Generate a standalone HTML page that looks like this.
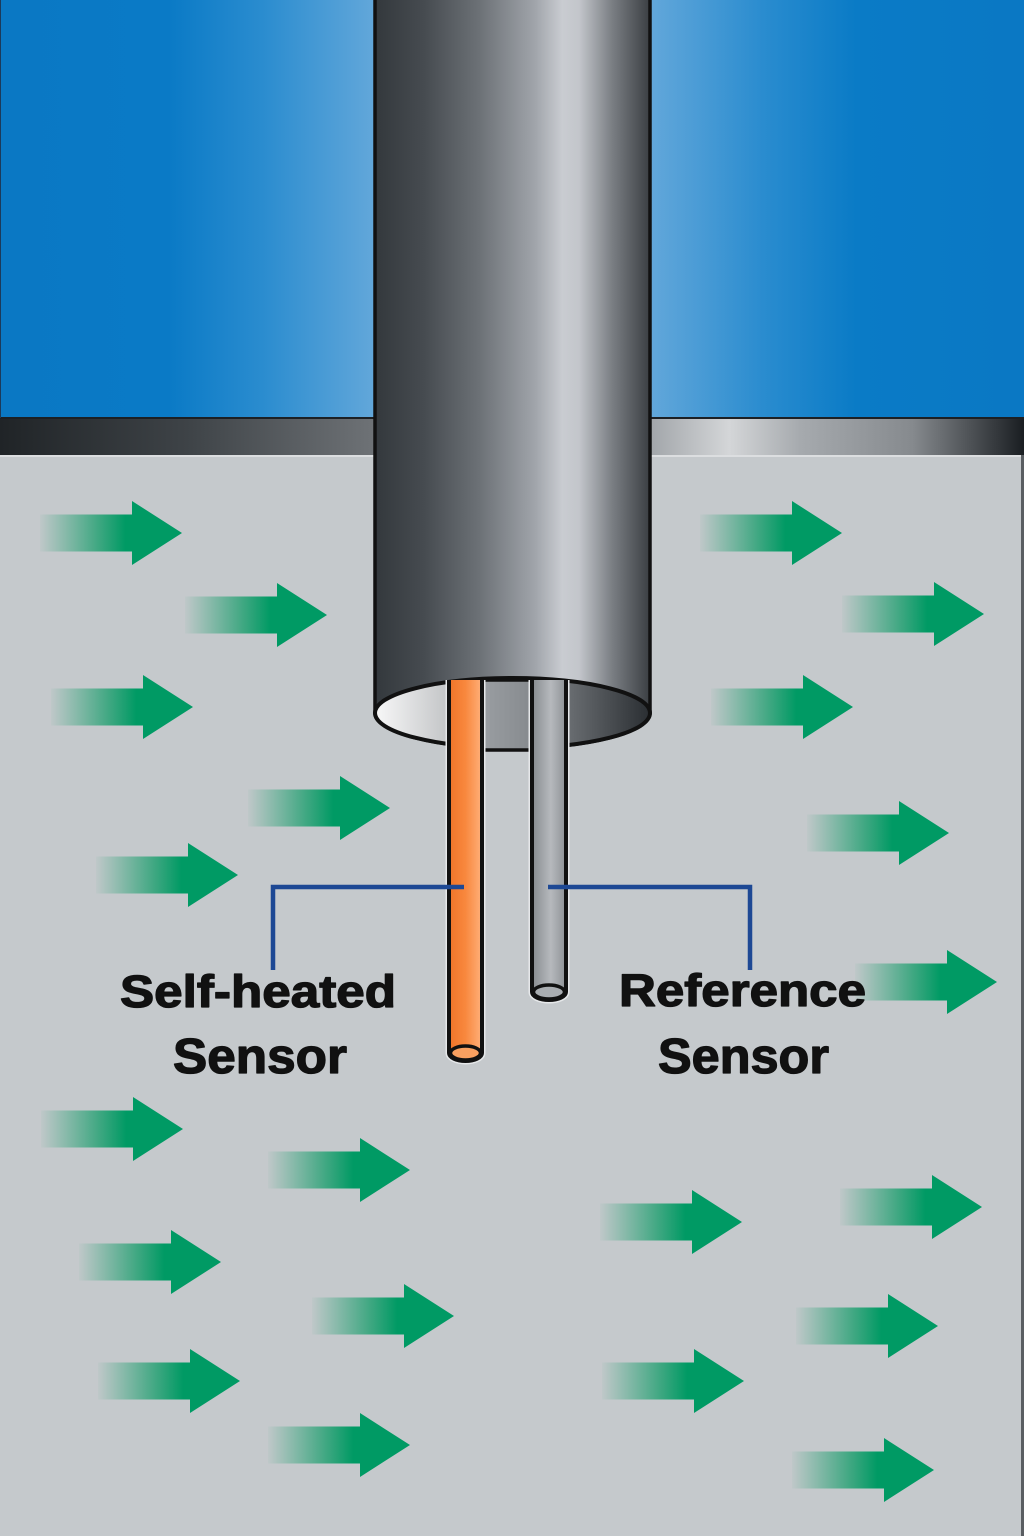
<!DOCTYPE html>
<html>
<head>
<meta charset="utf-8">
<style>
html,body{margin:0;padding:0;background:#c5c9cc;}
svg{display:block;}
</style>
</head>
<body>
<svg width="1024" height="1536" viewBox="0 0 1024 1536" xmlns="http://www.w3.org/2000/svg">
<defs>
  <linearGradient id="blueL" x1="0" y1="0" x2="374" y2="0" gradientUnits="userSpaceOnUse">
    <stop offset="0" stop-color="#0a78c4"/>
    <stop offset="0.45" stop-color="#0a7ac6"/>
    <stop offset="0.7" stop-color="#2a8ccf"/>
    <stop offset="1" stop-color="#62a7da"/>
  </linearGradient>
  <linearGradient id="blueR" x1="651" y1="0" x2="1024" y2="0" gradientUnits="userSpaceOnUse">
    <stop offset="0" stop-color="#62a7da"/>
    <stop offset="0.3" stop-color="#2a8ccf"/>
    <stop offset="0.55" stop-color="#0a7bc6"/>
    <stop offset="1" stop-color="#0a78c4"/>
  </linearGradient>
  <linearGradient id="bandL" x1="0" y1="0" x2="374" y2="0" gradientUnits="userSpaceOnUse">
    <stop offset="0" stop-color="#202427"/>
    <stop offset="0.5" stop-color="#3e4347"/>
    <stop offset="1" stop-color="#6e7276"/>
  </linearGradient>
  <linearGradient id="bandR" x1="651" y1="0" x2="1024" y2="0" gradientUnits="userSpaceOnUse">
    <stop offset="0" stop-color="#a2a6aa"/>
    <stop offset="0.21" stop-color="#d4d6d8"/>
    <stop offset="0.4" stop-color="#a6aaae"/>
    <stop offset="0.7" stop-color="#868a8e"/>
    <stop offset="0.9" stop-color="#3e4246"/>
    <stop offset="1" stop-color="#1a1e22"/>
  </linearGradient>
  <linearGradient id="pipe" x1="374" y1="0" x2="651" y2="0" gradientUnits="userSpaceOnUse">
    <stop offset="0" stop-color="#33383c"/>
    <stop offset="0.18" stop-color="#464b50"/>
    <stop offset="0.38" stop-color="#6c7176"/>
    <stop offset="0.58" stop-color="#a0a4aa"/>
    <stop offset="0.68" stop-color="#c9ccd1"/>
    <stop offset="0.74" stop-color="#c3c6cb"/>
    <stop offset="0.86" stop-color="#7a7e83"/>
    <stop offset="1" stop-color="#393d41"/>
  </linearGradient>
  <linearGradient id="hole" x1="375" y1="0" x2="650" y2="0" gradientUnits="userSpaceOnUse">
    <stop offset="0" stop-color="#f8f8f8"/>
    <stop offset="0.27" stop-color="#c2c4c6"/>
    <stop offset="0.5" stop-color="#8e9296"/>
    <stop offset="0.7" stop-color="#6a6e72"/>
    <stop offset="1" stop-color="#2a2e32"/>
  </linearGradient>
  <linearGradient id="block" x1="0" y1="0" x2="1" y2="0">
    <stop offset="0" stop-color="#9a9ea2"/>
    <stop offset="1" stop-color="#868a8e"/>
  </linearGradient>
  <linearGradient id="orange" x1="0" y1="0" x2="1" y2="0">
    <stop offset="0" stop-color="#f07428"/>
    <stop offset="0.5" stop-color="#f8883e"/>
    <stop offset="1" stop-color="#ffb07a"/>
  </linearGradient>
  <linearGradient id="grayt" x1="0" y1="0" x2="1" y2="0">
    <stop offset="0" stop-color="#878b8f"/>
    <stop offset="0.55" stop-color="#b6b9bd"/>
    <stop offset="1" stop-color="#8e9296"/>
  </linearGradient>
  <linearGradient id="ag" x1="0" y1="0" x2="1" y2="0">
    <stop offset="0" stop-color="#0a9a64" stop-opacity="0.03"/>
    <stop offset="0.15" stop-color="#0a9a64" stop-opacity="0.28"/>
    <stop offset="0.4" stop-color="#0a9a64" stop-opacity="0.7"/>
    <stop offset="0.6" stop-color="#009a64" stop-opacity="1"/>
    <stop offset="1" stop-color="#009a64" stop-opacity="1"/>
  </linearGradient>
  <path id="arr" d="M-142,-18.5 L-50,-18.5 L-50,-32 L0,0 L-50,32 L-50,18.5 L-142,18.5 Z" fill="url(#ag)"/>
</defs>

<!-- backgrounds -->
<rect x="0" y="0" width="1024" height="1536" fill="#c5c9cc"/>
<rect x="0" y="0" width="375" height="418" fill="url(#blueL)"/>
<rect x="650" y="0" width="374" height="418" fill="url(#blueR)"/>
<rect x="0" y="418" width="375" height="37" fill="url(#bandL)"/>
<rect x="650" y="418" width="374" height="37" fill="url(#bandR)"/>
<rect x="0" y="417" width="1024" height="2" fill="#1c2024"/>
<rect x="0" y="455" width="1024" height="2" fill="#dcdee0"/>
<rect x="1021" y="455" width="3" height="1081" fill="#5a5e62"/>
<rect x="0" y="0" width="1" height="418" fill="#1c3a5a"/>

<!-- arrows -->
<use href="#arr" transform="translate(182,533)"/>
<use href="#arr" transform="translate(327,615)"/>
<use href="#arr" transform="translate(193,707)"/>
<use href="#arr" transform="translate(390,808)"/>
<use href="#arr" transform="translate(238,875)"/>
<use href="#arr" transform="translate(183,1129)"/>
<use href="#arr" transform="translate(410,1170)"/>
<use href="#arr" transform="translate(221,1262)"/>
<use href="#arr" transform="translate(454,1316)"/>
<use href="#arr" transform="translate(240,1381)"/>
<use href="#arr" transform="translate(410,1445)"/>
<use href="#arr" transform="translate(842,533)"/>
<use href="#arr" transform="translate(984,614)"/>
<use href="#arr" transform="translate(853,707)"/>
<use href="#arr" transform="translate(949,833)"/>
<use href="#arr" transform="translate(997,982)"/>
<use href="#arr" transform="translate(742,1222)"/>
<use href="#arr" transform="translate(982,1207)"/>
<use href="#arr" transform="translate(938,1326)"/>
<use href="#arr" transform="translate(744,1381)"/>
<use href="#arr" transform="translate(934,1470)"/>

<!-- pipe body -->
<path d="M375,-5 L375,713 A137.5,35 0 0 0 650,713 L650,-5 Z" fill="url(#pipe)" stroke="#111" stroke-width="3.5"/>
<!-- opening -->
<ellipse cx="512.5" cy="713" rx="137.5" ry="35" fill="url(#hole)" stroke="#111" stroke-width="4"/>
<!-- inner block between tubes -->
<rect x="482" y="680" width="50" height="70" fill="url(#block)" stroke="#111" stroke-width="3.5"/>

<!-- orange tube -->
<path d="M449,680 L449,1053 A16.5,8 0 0 0 482,1053 L482,680" fill="none" stroke="#e6e8ea" stroke-width="7"/>
<path d="M449,680 L449,1053 A16.5,8 0 0 0 482,1053 L482,680" fill="url(#orange)" stroke="#111" stroke-width="4"/>
<ellipse cx="465.5" cy="1053" rx="15" ry="7" fill="#f9a060" stroke="#111" stroke-width="3.5"/>

<!-- gray tube -->
<path d="M532,680 L532,992 A17,8 0 0 0 566,992 L566,680" fill="none" stroke="#e6e8ea" stroke-width="7"/>
<path d="M532,680 L532,992 A17,8 0 0 0 566,992 L566,680" fill="url(#grayt)" stroke="#111" stroke-width="4"/>
<ellipse cx="549" cy="992" rx="15.5" ry="7" fill="#a9adb1" stroke="#111" stroke-width="3.5"/>

<!-- leader lines -->
<path d="M273,970 L273,887 L464,887" fill="none" stroke="#1d4894" stroke-width="4.5"/>
<path d="M548,887 L750,887 L750,970" fill="none" stroke="#1d4894" stroke-width="4.5"/>

<!-- labels -->
<g font-family="'Liberation Sans', Arial, sans-serif" font-weight="bold" fill="#111" stroke="#111" stroke-width="1.3" stroke-linejoin="round">
  <text x="120" y="1007" font-size="45" textLength="276" lengthAdjust="spacingAndGlyphs">Self-heated</text>
  <text x="173" y="1073" font-size="49" textLength="174" lengthAdjust="spacingAndGlyphs">Sensor</text>
  <text x="619" y="1006" font-size="45" textLength="247" lengthAdjust="spacingAndGlyphs">Reference</text>
  <text x="658" y="1073" font-size="49" textLength="171" lengthAdjust="spacingAndGlyphs">Sensor</text>
</g>
</svg>
</body>
</html>
